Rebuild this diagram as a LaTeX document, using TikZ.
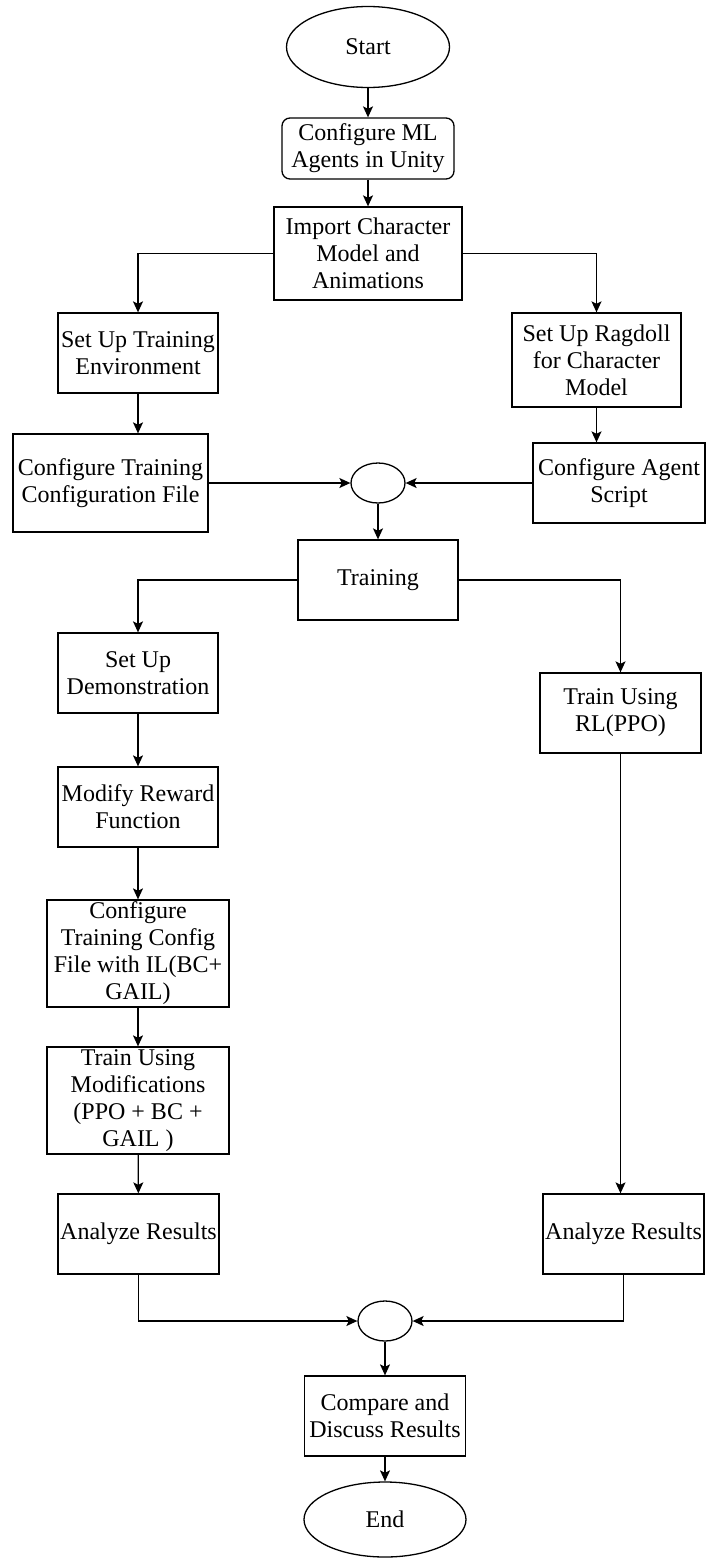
\documentclass[tikz,border=0pt]{standalone}
\usepackage{fontspec}
\setmainfont{Liberation Serif}
\usetikzlibrary{arrows.meta,positioning,shapes.geometric}
\tikzset{process/.style={rectangle,draw=black,line width=1.3pt,align=center,inner sep=0pt,font=\fontsize{24}{27}\selectfont},
  terminal/.style={ellipse,draw=black,line width=1.3pt,inner sep=0pt,font=\fontsize{24}{27}\selectfont},
  junction/.style={ellipse,draw=black,line width=1.3pt,minimum width=54pt,minimum height=40pt,inner sep=0pt},
  flow/.style={draw=black,line width=1.3pt,-{Stealth[length=11pt,width=10pt,inset=2.5pt]}}}

\begin{document}
\begin{tikzpicture}[x=1pt,y=-1pt]
\useasboundingbox (0,0) rectangle (706,1558);

\node[terminal,minimum width=163pt,minimum height=81pt] (start) at (368,47) {Start};
\node[process,rounded corners=8pt,minimum width=172pt,minimum height=61pt] (cfgml) at (368,148.5) {Configure ML\\Agents in Unity};
\node[process,minimum width=188pt,minimum height=93pt] (import) at (368,253.5) {Import Character\\Model and\\Animations};

\node[process,minimum width=160pt,minimum height=80pt] (env) at (138,353) {Set Up Training\\Environment};
\node[process,minimum width=169pt,minimum height=94pt] (ragdoll) at (596.5,360) {Set Up Ragdoll\\for Character\\Model};
\node[process,minimum width=195pt,minimum height=98pt] (cfgtrain) at (110.5,483) {Configure Training\\Configuration File};
\node[process,minimum width=172pt,minimum height=80pt] (agent) at (619,483) {Configure Agent\\Script};
\node[junction] (merge1) at (378,483) {};

\node[process,minimum width=160pt,minimum height=80pt] (training) at (378,580) {Training};

\node[process,minimum width=160pt,minimum height=80pt] (demo) at (138,673) {Set Up\\Demonstration};
\node[process,minimum width=161pt,minimum height=80pt] (rl) at (620.5,713) {Train Using\\RL(PPO)};
\node[process,minimum width=160pt,minimum height=80pt] (reward) at (138,807) {Modify Reward\\Function};
\node[process,minimum width=182pt,minimum height=107pt] (il) at (138,953.5) {Configure\\Training Config\\File with IL(BC+\\GAIL)};
\node[process,minimum width=182pt,minimum height=107pt] (mods) at (138,1100.5) {Train Using\\Modifications\\(PPO + BC +\\GAIL )};
\node[process,minimum width=161pt,minimum height=80pt] (anl) at (138.5,1234) {Analyze Results};
\node[process,minimum width=161pt,minimum height=80pt] (anr) at (623.5,1234) {Analyze Results};

\node[junction] (merge2) at (385,1321) {};
\node[process,minimum width=161pt,minimum height=80pt] (compare) at (385,1416) {Compare and\\Discuss Results};
\node[terminal,minimum width=162pt,minimum height=75pt] (end) at (385,1519.5) {End};

\draw[flow] (start) -- (cfgml);
\draw[flow] (cfgml) -- (import);
\draw[flow] (import.west) -| (env.north);
\draw[flow] (import.east) -| (ragdoll.north);
\draw[flow] (env.south) -- (env.south |- cfgtrain.north);
\draw[flow] (ragdoll.south) -- (ragdoll.south |- agent.north);
\draw[flow] (cfgtrain) -- (merge1);
\draw[flow] (agent) -- (merge1);
\draw[flow] (merge1) -- (training);

\draw[flow] (training.west) -| (demo.north);
\draw[flow] (training.east) -| (rl.north);
\draw[flow] (demo) -- (reward);
\draw[flow] (reward) -- (il);
\draw[flow] (il) -- (mods);
\draw[flow] (mods) -- (anl);
\draw[flow] (rl.south) -- (rl.south |- anr.north);

\draw[flow] (anl.south) |- (merge2.west);
\draw[flow] (anr.south) |- (merge2.east);
\draw[flow] (merge2) -- (compare);
\draw[flow] (compare) -- (end);

\end{tikzpicture}
\end{document}
